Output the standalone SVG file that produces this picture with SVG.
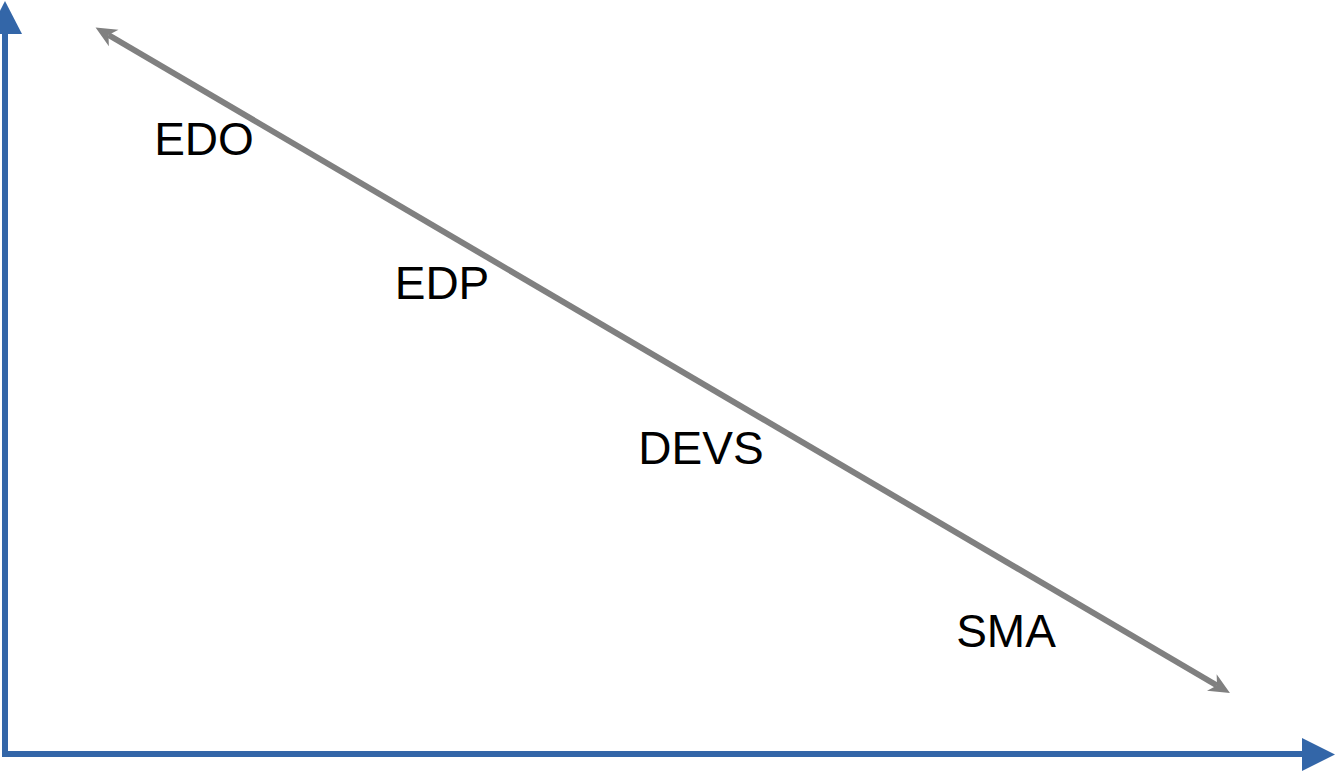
<svg xmlns="http://www.w3.org/2000/svg" width="1335" height="771" viewBox="0 0 1335 771">
  <style>
    .axis { stroke: #3366a8; stroke-width: 6; fill: none; }
    .axis-head { fill: #3366a8; }
    .trend { stroke: #808080; stroke-width: 6; fill: none; }
    .label { font-family: "Liberation Sans", Arial, sans-serif; font-size: 46px; fill: #000000; text-anchor: middle; }
  </style>
  <defs>
    <!-- notched arrowhead; reference point sits on the notch so the stroke ends inside it -->
    <marker id="notched" markerUnits="userSpaceOnUse" viewBox="0 0 22 22" markerWidth="22" markerHeight="22" refX="6" refY="11" orient="auto-start-reverse">
      <path d="M0,1.5 L21,11 L0,20.5 L6,11 Z" fill="#808080"/>
    </marker>
  </defs>

  <rect width="1335" height="771" fill="#ffffff"/>

  <g id="axes">
    <path class="axis" d="M5,33 L5,754 L1303,754"/>
    <polygon class="axis-head" points="5,1 22,34 -12,34"/>
    <polygon class="axis-head" points="1335,754.5 1302,738 1302,771"/>
  </g>

  <g id="connectors">
    <line class="trend" x1="108.5" y1="35" x2="1217" y2="685.5" marker-start="url(#notched)" marker-end="url(#notched)"/>
  </g>

  <g id="node-edo"><text class="label" x="204" y="155">EDO</text></g>
  <g id="node-edp"><text class="label" x="442" y="299">EDP</text></g>
  <g id="node-devs"><text class="label" x="701" y="464">DEVS</text></g>
  <g id="node-sma"><text class="label" x="1006" y="647">SMA</text></g>
</svg>
